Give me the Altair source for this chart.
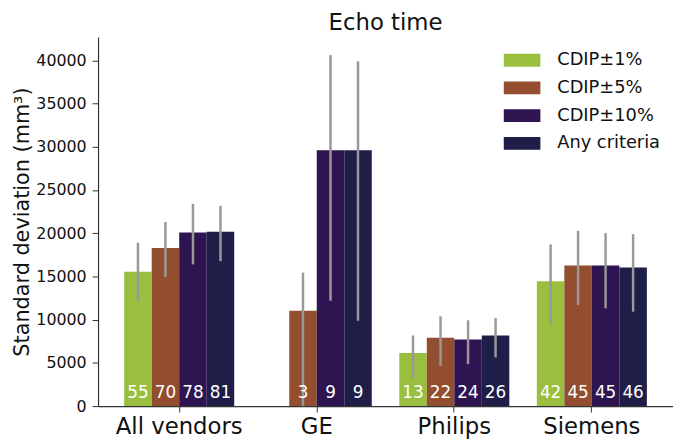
import altair as alt
import pandas as pd

vendors = ["All vendors", "GE", "Philips", "Siemens"]
series = ["CDIP\u00b11%", "CDIP\u00b15%", "CDIP\u00b110%", "Any criteria"]
colors = ["#9abf3f", "#924e2e", "#2e1450", "#1e1e48"]

# values per series, in vendor order (None = no bar)
means = {
    "CDIP\u00b11%":  [15550, None, 6150, 14440],
    "CDIP\u00b15%":  [18300, 11040, 7910, 16270],
    "CDIP\u00b110%": [20090, 29600, 7710, 16270],
    "Any criteria": [20170, 29600, 8170, 16040],
}
err_low = {
    "CDIP\u00b11%":  [12070, None, 3210, 9430],
    "CDIP\u00b15%":  [14930, 0, 4660, 11690],
    "CDIP\u00b110%": [16390, 12180, 4850, 11310],
    "Any criteria": [16770, 9860, 5620, 10920],
}
err_high = {
    "CDIP\u00b11%":  [18900, None, 8170, 18710],
    "CDIP\u00b15%":  [21300, 15440, 10390, 20280],
    "CDIP\u00b110%": [23400, 40600, 9930, 20020],
    "Any criteria": [23180, 39900, 10200, 19900],
}
counts = {
    "CDIP\u00b11%":  [55, None, 13, 42],
    "CDIP\u00b15%":  [70, 3, 22, 45],
    "CDIP\u00b110%": [78, 9, 24, 45],
    "Any criteria": [81, 9, 26, 46],
}

rows = []
for s in series:
    for i, v in enumerate(vendors):
        if means[s][i] is None:
            continue
        rows.append({"vendor": v, "series": s, "mean": means[s][i],
                     "lo": err_low[s][i], "hi": err_high[s][i],
                     "n": str(counts[s][i]), "zero": 0})
df = pd.DataFrame(rows)

FONT = "DejaVu Sans"
x = alt.X("vendor:N", sort=vendors, title=None,
          scale=alt.Scale(paddingInner=0, paddingOuter=0.09),
          axis=alt.Axis(labelAngle=0, labelFontSize=23, labelFont=FONT,
                        labelColor="#111", domainColor="#333", tickColor="#333",
                        tickSize=6, labelPadding=4, domainWidth=1.2))
xo = alt.XOffset("series:N", sort=series,
                 scale=alt.Scale(paddingInner=0, paddingOuter=0.5))

bars = alt.Chart(df).mark_bar(stroke=None).encode(
    x=x, xOffset=xo,
    y=alt.Y("mean:Q", title="Standard deviation (mm\u00b3)",
            scale=alt.Scale(domain=[0, 42700], nice=False),
            axis=alt.Axis(grid=False, values=list(range(0, 40001, 5000)), format="d",
                          labelFontSize=16, labelFont=FONT, labelColor="#111",
                          titleFontSize=21, titleFont=FONT, titleFontWeight="normal",
                          titleColor="#111", domainColor="#333", tickColor="#333",
                          tickSize=6, labelPadding=6, titlePadding=3, domainWidth=1.2)),
    color=alt.Color("series:N", sort=series,
                    scale=alt.Scale(domain=series, range=colors),
                    legend=alt.Legend(title=None, orient="none", legendX=410, legendY=5,
                                      symbolType="M-1,-0.35H1V0.35H-1Z", symbolSize=1369,
                                      symbolStrokeWidth=0, symbolOpacity=1,
                                      labelFontSize=18, labelFont=FONT, labelColor="#111",
                                      rowPadding=-13, labelOffset=17)),
)

errs = alt.Chart(df).mark_rule(color="#999999", strokeWidth=2.5).encode(
    x=x, xOffset=xo, y="lo:Q", y2="hi:Q")

labels = alt.Chart(df).mark_text(color="white", fontSize=17, font=FONT,
                                 baseline="alphabetic", dy=-8).encode(
    x=x, xOffset=xo, y="zero:Q", text="n:N")

chart = alt.layer(bars, errs, labels).properties(
    width=581, height=373,
    title=alt.TitleParams("Echo time", fontSize=23, font=FONT, fontWeight="normal",
                          color="#111", offset=2),
    autosize=alt.AutoSizeParams(type="none"),
    padding={"left": 91, "top": 27, "right": 0, "bottom": 36},
).configure_view(stroke=None)

chart.save("out.html", embed_options={"renderer": "svg", "actions": False})
